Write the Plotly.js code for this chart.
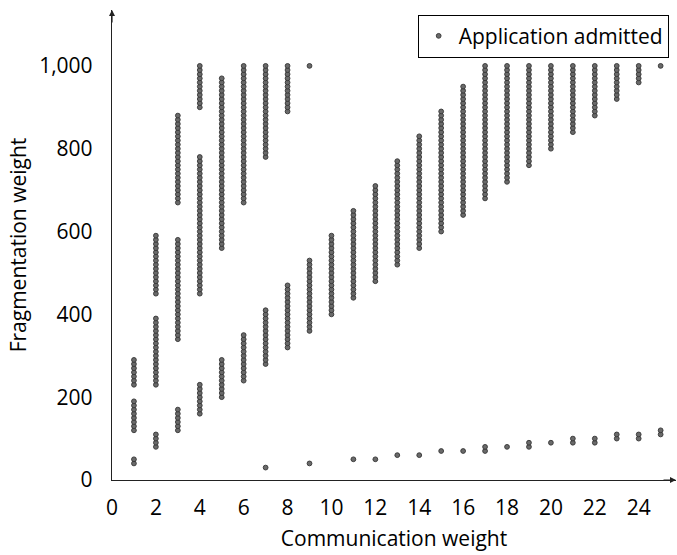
<!DOCTYPE html>
<html>
<head>
<meta charset="utf-8">
<script src="https://cdn.plot.ly/plotly-3.0.1.min.js"></script>
<style>html,body{margin:0;padding:0;background:#fff;}#chart{width:677px;height:555px;}</style>
</head>
<body>
<div id="chart"></div>
<script>
// Communication weight of each column and the runs of admitted fragmentation weights
const segWeight = [1,1,1, 2,2,2, 3,3,3, 4,4,4, 5,5, 6,6, 7,7,7, 8,8, 9,9,9, 10,
  11,11, 12,12, 13,13, 14,14, 15,15, 16,16, 17,17, 18,18, 19,19, 20,20, 21,21, 22,22, 23,23, 24,24, 25,25];
const segFrom = [40,120,230, 80,230,450, 120,340,670, 160,450,900, 200,560, 240,670, 30,280,780, 320,890, 40,360,1000, 400,
  50,440, 50,480, 60,520, 60,560, 70,600, 70,640, 70,680, 80,720, 80,760, 90,800, 90,840, 90,880, 100,920, 100,960, 110,1000];
const segTo = [50,190,290, 110,390,590, 170,580,880, 230,780,1000, 290,970, 350,1000, 30,410,1000, 470,1000, 40,530,1000, 590,
  50,650, 50,710, 60,770, 60,830, 70,890, 70,950, 80,1000, 80,1000, 90,1000, 90,1000, 100,1000, 100,1000, 110,1000, 110,1000, 120,1000];
const valueStep = 10;
const xTicks = [0,2,4,6,8,10,12,14,16,18,20,22,24];
const yTicks = [0,200,400,600,800,1000];
const seriesName = "Application admitted";

const xs = [], ys = [];
for (let i = 0; i < segWeight.length; i++) {
  for (let v = segFrom[i]; v <= segTo[i]; v += valueStep) { xs.push(segWeight[i]); ys.push(v); }
}

const font = "Open Sans, Lato, DejaVu Sans, sans-serif";
const trace = {
  type: "scatter", mode: "markers", x: xs, y: ys, name: seriesName,
  marker: {size: 4.8, color: "#6a6a6a", line: {color: "#333", width: 0.9}},
  showlegend: true, cliponaxis: false
};
const layout = {
  width: 677, height: 555,
  margin: {l: 112, r: 1, t: 10, b: 75},
  paper_bgcolor: "#fff", plot_bgcolor: "#fff",
  font: {family: font, size: 21, color: "#000"},
  xaxis: {range: [0, 25.7], tickvals: xTicks, ticktext: xTicks.map(String), showgrid: false, zeroline: false,
    showline: true, linecolor: "#222", linewidth: 1.2, ticks: "", ticklabelstandoff: 9,
    tickfont: {size: 21},
    title: {text: "Communication weight", font: {size: 21}, standoff: 10}},
  yaxis: {range: [0, 1135], tickvals: yTicks, ticktext: yTicks.map(v => v.toLocaleString("en-US")), showgrid: false, zeroline: false,
    showline: true, linecolor: "#222", linewidth: 1.2, ticks: "", ticklabelstandoff: 14,
    tickfont: {size: 21},
    title: {text: "Fragmentation weight", font: {size: 21}, standoff: 6}},
  legend: {x: 0.987, xanchor: "right", y: 0.99, yanchor: "top", bordercolor: "#000", borderwidth: 1,
    bgcolor: "#fff", font: {size: 21}, itemwidth: 30, tracegroupgap: 0},
  annotations: [
    {xref: "paper", yref: "paper", x: 0, y: 1, ax: 0, ay: 14, axref: "pixel", ayref: "pixel", text: "",
     showarrow: true, arrowhead: 2, arrowsize: 1, arrowwidth: 1.2, arrowcolor: "#222"},
    {xref: "paper", yref: "paper", x: 1, y: 0, ax: -14, ay: 0, axref: "pixel", ayref: "pixel", text: "",
     showarrow: true, arrowhead: 2, arrowsize: 1, arrowwidth: 1.2, arrowcolor: "#222"}
  ]
};
Plotly.newPlot("chart", [trace], layout, {displayModeBar: false, staticPlot: true});
</script>
</body>
</html>
